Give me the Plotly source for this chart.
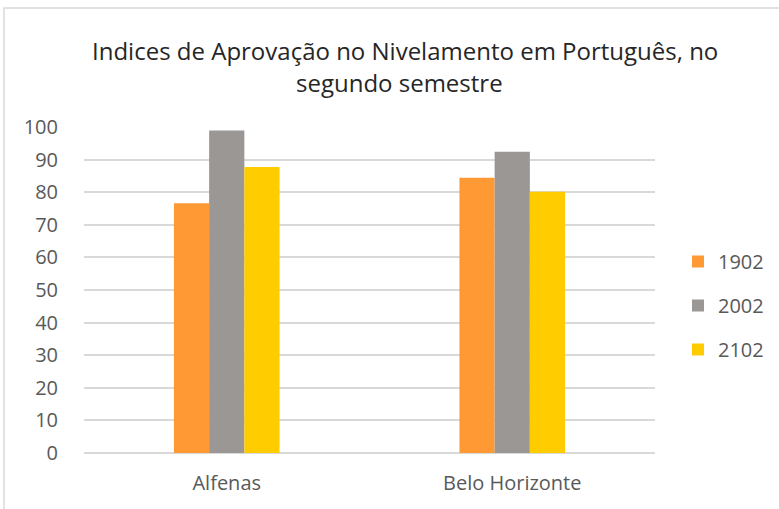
import plotly.graph_objects as go

categories = ["Alfenas", "Belo Horizonte"]
series_names = ["1902", "2002", "2102"]
values_1902 = [76.6, 84.4]
values_2002 = [98.9, 92.4]
values_2102 = [87.7, 80.1]
colors = ["#FF9933", "#9B9795", "#FFCC00"]
title_lines = ["Indices de Aprovação no Nivelamento em Português, no", "segundo semestre"]

fig = go.Figure()
for name, vals, col in zip(series_names, [values_1902, values_2002, values_2102], colors):
    fig.add_trace(go.Bar(name=name, x=categories, y=vals, marker=dict(color=col, line=dict(width=0)),
                         legendgroup=name))

FONT = "Open Sans, sans-serif"
L, R, T, B = 84, 124, 127, 56
W, H = 779, 509
pw, ph = W - L - R, H - T - B

def px(x):
    return (x - L) / pw

def py(y):
    return (H - B - y) / ph

fig.update_layout(
    width=W, height=H,
    margin=dict(l=L, r=R, t=T, b=B, autoexpand=False),
    paper_bgcolor="white", plot_bgcolor="white",
    barmode="group", bargap=0.63, bargroupgap=0,
    font=dict(family=FONT, color="#595959", size=20),
    xaxis=dict(showgrid=False, showline=False, ticks="", tickfont=dict(size=20),
               ticklabelstandoff=16),
    yaxis=dict(range=[0, 100], dtick=10, showgrid=True, gridcolor="#D9D9D9", gridwidth=1.5,
               zeroline=True, zerolinecolor="#D9D9D9", zerolinewidth=1.5,
               showline=False, ticks="", tickfont=dict(size=20), ticklabelstandoff=25),
    legend=dict(x=px(678), y=py(242), xanchor="left", yanchor="top",
                font=dict(size=20), traceorder="grouped", tracegroupgap=15,
                itemwidth=30, bgcolor="rgba(0,0,0,0)"),
    showlegend=True,
    shapes=[dict(type="rect", xref="paper", yref="paper",
                 x0=px(4), x1=px(800), y0=py(530), y1=py(8),
                 line=dict(color="#D9D9D9", width=1.5), fillcolor="rgba(0,0,0,0)", layer="below")],
    annotations=[
        dict(text=title_lines[0], xref="paper", yref="paper", x=px(405), y=py(50),
             xanchor="center", yanchor="middle", showarrow=False,
             font=dict(family=FONT, size=24, color="#262626")),
        dict(text=title_lines[1], xref="paper", yref="paper", x=px(399), y=py(83),
             xanchor="center", yanchor="middle", showarrow=False,
             font=dict(family=FONT, size=24, color="#262626")),
    ],
)

fig.write_html("out.html", config={"displayModeBar": False},
               post_script="document.body.style.margin='0px';")
